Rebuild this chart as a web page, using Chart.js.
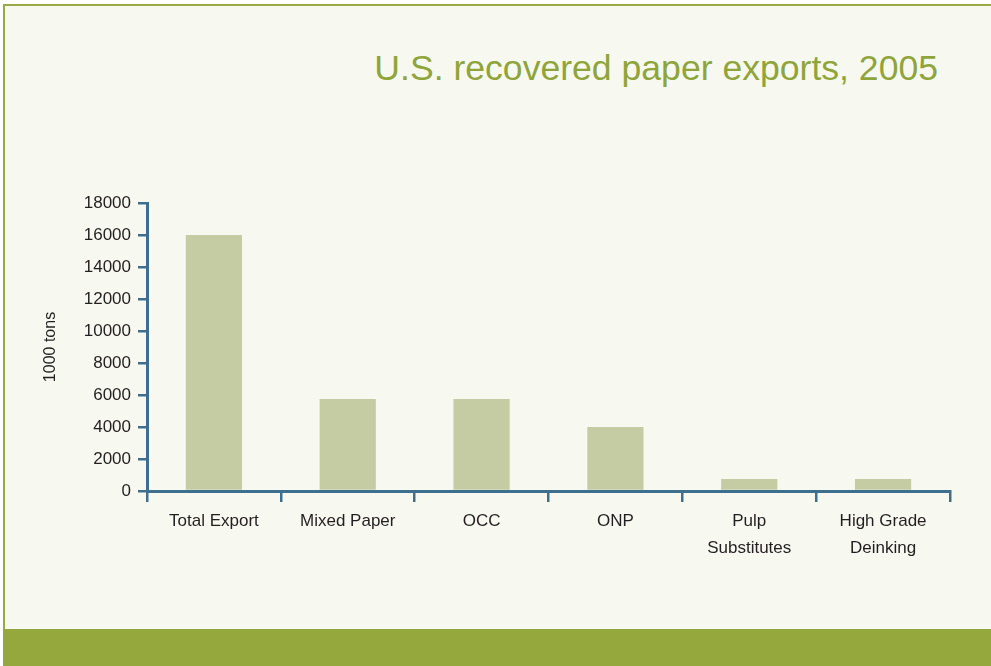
<!DOCTYPE html>
<html>
<head>
<meta charset="utf-8">
<script src="https://cdn.jsdelivr.net/npm/chart.js@4"></script>
<style>
  html, body { margin: 0; padding: 0; background: #ffffff; }
  .page { position: relative; width: 991px; height: 666px; overflow: hidden; }
  .panel {
    position: absolute; left: 3px; top: 4px; right: 0; bottom: 0;
    background: #f7f9f1;
    border-top: 2px solid #98aa45;
    border-left: 2px solid #98aa45;
  }
  .band { position: absolute; left: 3px; right: 0; top: 629px; bottom: 0; background: #95a83d; }
  .title {
    position: absolute; right: 53px; top: 48px;
    font: 35.6px "Liberation Sans", Arial, sans-serif;
    color: #8fa53a; white-space: nowrap;
  }
  canvas { position: absolute; left: 0; top: 0; }
</style>
</head>
<body>
<div class="page">
  <div class="panel"></div>
  <div class="band"></div>
  <div class="title">U.S. recovered paper exports, 2005</div>
  <canvas id="chart" width="991" height="666"></canvas>
</div>
<script>
const categories = ['Total Export', 'Mixed Paper', 'OCC', 'ONP', ['Pulp', 'Substitutes'], ['High Grade', 'Deinking']];
const exports2005 = [16000, 5750, 5750, 4000, 750, 750];
const yTicks = [0, 2000, 4000, 6000, 8000, 10000, 12000, 14000, 16000, 18000];

const axisColor = '#3e6f8e';
const textColor = '#231f20';
const fontFamily = '"Liberation Sans", Arial, sans-serif';

new Chart(document.getElementById('chart'), {
  type: 'bar',
  data: {
    labels: categories,
    datasets: [{
      data: exports2005,
      backgroundColor: '#c5cca3',
      borderWidth: 0,
      barPercentage: 0.42,
      categoryPercentage: 1
    }]
  },
  options: {
    responsive: false,
    animation: false,
    layout: { padding: { top: 203, right: 41, left: 0, bottom: 0 } },
    plugins: { legend: { display: false }, tooltip: { enabled: false } },
    scales: {
      x: {
        grid: {
          offset: true,
          drawOnChartArea: false,
          drawTicks: true,
          tickLength: 11,
          color: axisColor,
          lineWidth: 2.5
        },
        border: { color: axisColor, width: 3 },
        ticks: {
          color: textColor,
          font: { family: fontFamily, size: 17, lineHeight: 1.6 },
          padding: 6
        },
        afterFit: s => { s.height = 175; }
      },
      y: {
        min: 0,
        max: 18000,
        afterBuildTicks: s => { s.ticks = yTicks.map(v => ({ value: v })); },
        grid: {
          drawOnChartArea: false,
          drawTicks: true,
          tickLength: 9,
          color: axisColor,
          lineWidth: 2.5
        },
        border: { color: axisColor, width: 3 },
        ticks: {
          color: textColor,
          font: { family: fontFamily, size: 17 },
          padding: 7,
          callback: v => String(v)
        },
        title: {
          display: true,
          text: '1000 tons',
          color: textColor,
          font: { family: fontFamily, size: 16 },
          padding: { top: 41, bottom: 0 }
        },
        afterFit: s => { s.width = 147; }
      }
    }
  }
});
</script>
</body>
</html>
